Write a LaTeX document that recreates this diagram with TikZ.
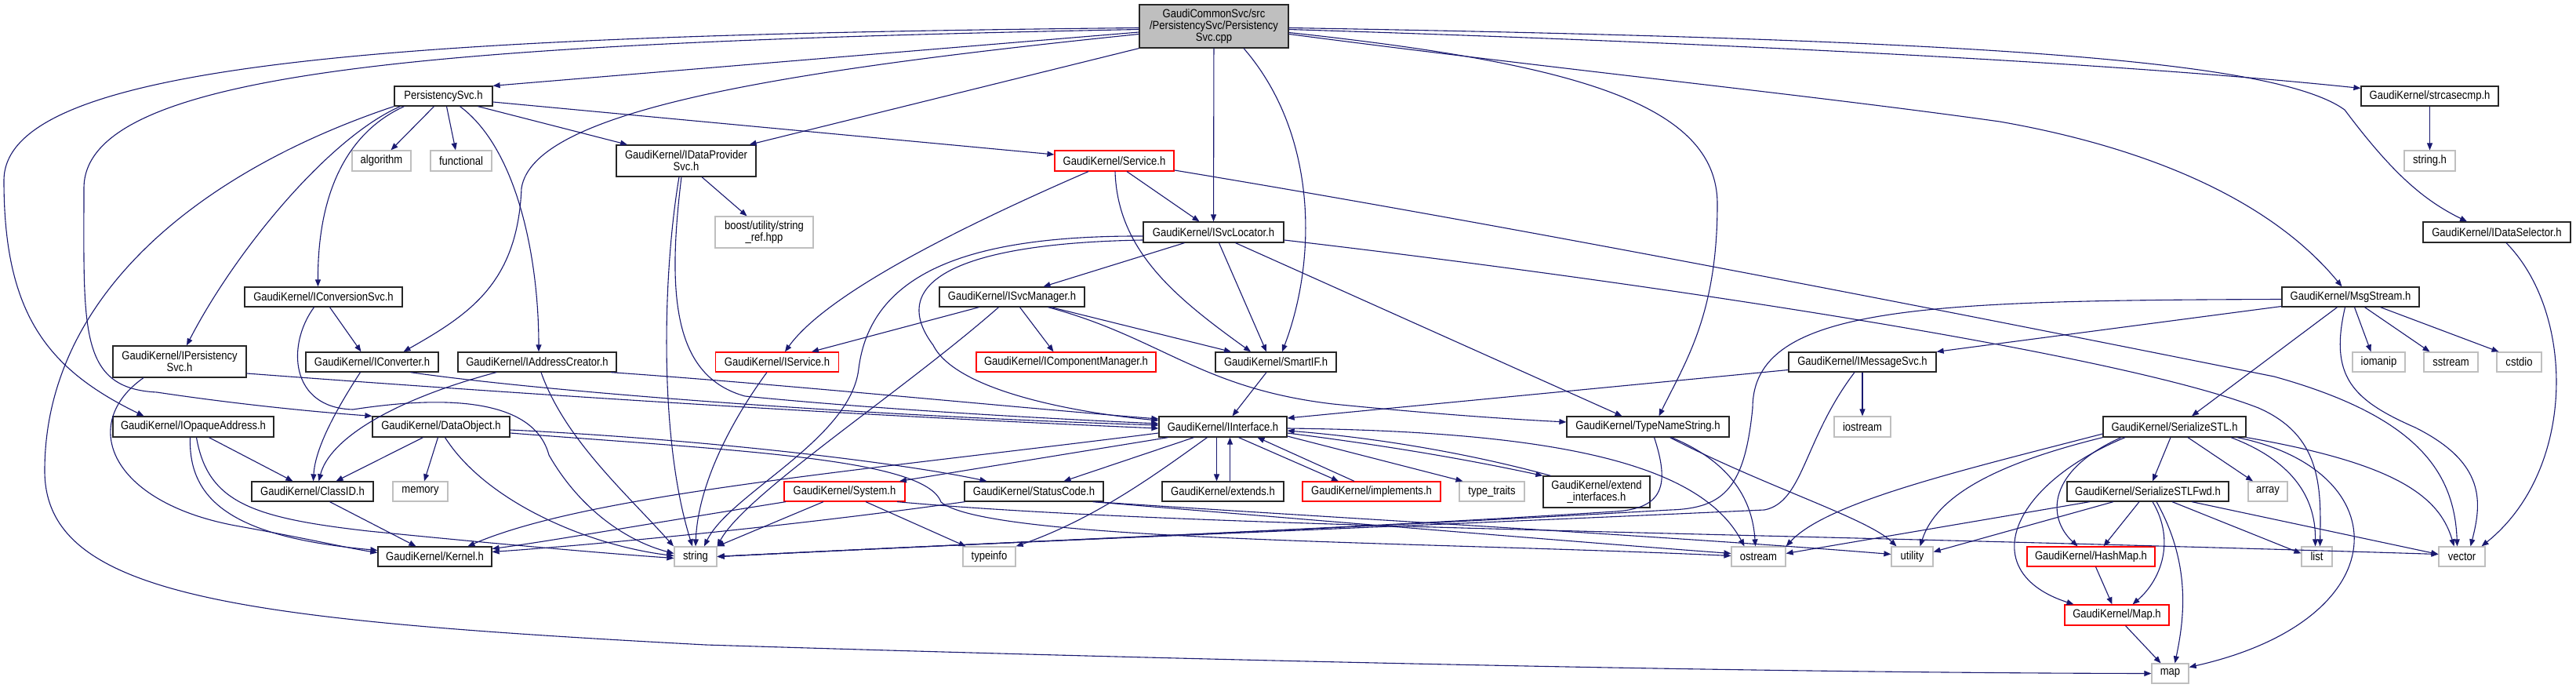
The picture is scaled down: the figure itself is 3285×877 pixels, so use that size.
\documentclass[tikz,border=0pt]{standalone}
\usepackage{fontspec}
\setmainfont{Liberation Sans}[FakeStretch=0.87]
\usetikzlibrary{arrows.meta}
\definecolor{mblue}{HTML}{191970}
\definecolor{gbord}{HTML}{BFBFBF}
\definecolor{mfill}{HTML}{BFBFBF}
\tikzset{
  nb/.style={draw=black!85, line width=1.25pt, fill=white, inner sep=0pt, align=center,
    font=\fontsize{15}{15}\selectfont, text=black},
  rb/.style={nb, draw=red},
  gb/.style={nb, draw=gbord},
  mb/.style={nb, fill=mfill},
  e/.style={draw=mblue, line width=1.1pt, -{Triangle[length=9pt,width=7pt]}},
}
\begin{document}
\begin{tikzpicture}[x=1pt,y=-1pt]
\fill[white] (0,0) rectangle (3285,877);
\useasboundingbox (0,0) rectangle (3285,877);
% nodes
\node[mb, minimum width=190pt, minimum height=55pt] (main) at (1548,33.5) {GaudiCommonSvc/src\\/PersistencySvc/Persistency\\Svc.cpp};
\node[nb, minimum width=125pt, minimum height=25pt] (psvch) at (565.5,122.5) {PersistencySvc.h};
\node[gb, minimum width=75pt, minimum height=26pt] (algorithm) at (486.5,205) {algorithm};
\node[gb, minimum width=78pt, minimum height=26pt] (functional) at (588,205) {functional};
\node[nb, minimum width=178pt, minimum height=40pt] (idps) at (875,205) {GaudiKernel/IDataProvider\\Svc.h};
\node[gb, minimum width=125pt, minimum height=40pt] (boost) at (974.5,296) {boost/utility/string\\\_ref.hpp};
\node[rb, minimum width=152pt, minimum height=26pt] (service) at (1421,205) {GaudiKernel/Service.h};
\node[nb, minimum width=179pt, minimum height=26pt] (isvcloc) at (1547.5,296) {GaudiKernel/ISvcLocator.h};
\node[nb, minimum width=185pt, minimum height=25pt] (isvcman) at (1290.5,378.5) {GaudiKernel/ISvcManager.h};
\node[nb, minimum width=201pt, minimum height=25pt] (iconvsvc) at (412.5,378.5) {GaudiKernel/IConversionSvc.h};
\node[nb, minimum width=170pt, minimum height=40pt] (ipers) at (229,461) {GaudiKernel/IPersistency\\Svc.h};
\node[nb, minimum width=169pt, minimum height=25pt] (iconv) at (474.5,461.5) {GaudiKernel/IConverter.h};
\node[nb, minimum width=202pt, minimum height=25pt] (iaddr) at (685,461.5) {GaudiKernel/IAddressCreator.h};
\node[rb, minimum width=157pt, minimum height=25pt] (iservice) at (991,461.5) {GaudiKernel/IService.h};
\node[rb, minimum width=229pt, minimum height=25pt] (icomp) at (1359.5,461.5) {GaudiKernel/IComponentManager.h};
\node[nb, minimum width=154pt, minimum height=25pt] (smartif) at (1627,461.5) {GaudiKernel/SmartIF.h};
\node[nb, minimum width=188pt, minimum height=25pt] (imsg) at (2375,461.5) {GaudiKernel/IMessageSvc.h};
\node[gb, minimum width=67pt, minimum height=25pt] (iomanip) at (3033.5,461.5) {iomanip};
\node[gb, minimum width=69pt, minimum height=25pt] (sstream) at (3125.5,461.5) {sstream};
\node[gb, minimum width=57pt, minimum height=25pt] (cstdio) at (3212.5,461.5) {cstdio};
\node[nb, minimum width=205pt, minimum height=26pt] (iopaq) at (246.5,544) {GaudiKernel/IOpaqueAddress.h};
\node[nb, minimum width=175pt, minimum height=26pt] (dataobj) at (562.5,544) {GaudiKernel/DataObject.h};
\node[nb, minimum width=163pt, minimum height=26pt] (iinterface) at (1559.5,544) {GaudiKernel/IInterface.h};
\node[nb, minimum width=207pt, minimum height=26pt] (tns) at (2101.5,544) {GaudiKernel/TypeNameString.h};
\node[gb, minimum width=72pt, minimum height=26pt] (iostream) at (2375,544) {iostream};
\node[nb, minimum width=182pt, minimum height=26pt] (serstl) at (2773,544) {GaudiKernel/SerializeSTL.h};
\node[nb, minimum width=155pt, minimum height=25pt] (classid) at (398.5,626.5) {GaudiKernel/ClassID.h};
\node[gb, minimum width=70pt, minimum height=25pt] (memory) at (536,626.5) {memory};
\node[rb, minimum width=154pt, minimum height=25pt] (system) at (1077,626.5) {GaudiKernel/System.h};
\node[nb, minimum width=177pt, minimum height=25pt] (statuscode) at (1318.5,626.5) {GaudiKernel/StatusCode.h};
\node[nb, minimum width=155pt, minimum height=25pt] (extends) at (1559.5,626.5) {GaudiKernel/extends.h};
\node[rb, minimum width=176pt, minimum height=25pt] (implements) at (1749,626.5) {GaudiKernel/implements.h};
\node[gb, minimum width=83pt, minimum height=25pt] (typetraits) at (1902.5,626.5) {type\_traits};
\node[nb, minimum width=136pt, minimum height=40pt] (extint) at (2036,627) {GaudiKernel/extend\\\_interfaces.h};
\node[nb, minimum width=206pt, minimum height=25pt] (serfwd) at (2739,626.5) {GaudiKernel/SerializeSTLFwd.h};
\node[gb, minimum width=50pt, minimum height=25pt] (array) at (2892,626.5) {array};
\node[nb, minimum width=145pt, minimum height=25pt] (kernel) at (554.5,709.5) {GaudiKernel/Kernel.h};
\node[gb, minimum width=54pt, minimum height=25pt] (string) at (887,709.5) {string};
\node[gb, minimum width=67pt, minimum height=25pt] (typeinfo) at (1261.5,709.5) {typeinfo};
\node[gb, minimum width=69pt, minimum height=25pt] (ostream) at (2242.5,709.5) {ostream};
\node[gb, minimum width=53pt, minimum height=25pt] (utility) at (2438.5,709.5) {utility};
\node[rb, minimum width=163pt, minimum height=25pt] (hashmap) at (2666.5,709.5) {GaudiKernel/HashMap.h};
\node[gb, minimum width=39pt, minimum height=25pt] (list) at (2954.5,709.5) {list};
\node[gb, minimum width=59pt, minimum height=25pt] (vector) at (3139.5,709.5) {vector};
\node[rb, minimum width=133pt, minimum height=26pt] (maph) at (2699.5,784) {GaudiKernel/Map.h};
\node[gb, minimum width=47pt, minimum height=25pt] (mapn) at (2767.5,858.5) {map};
\node[nb, minimum width=175pt, minimum height=25pt] (strcasecmp) at (3098.5,122.5) {GaudiKernel/strcasecmp.h};
\node[gb, minimum width=65pt, minimum height=26pt] (stringh) at (3098.5,205) {string.h};
\node[nb, minimum width=188pt, minimum height=26pt] (idsel) at (3184,296) {GaudiKernel/IDataSelector.h};
\node[nb, minimum width=175pt, minimum height=25pt] (msg) at (2997.5,378.5) {GaudiKernel/MsgStream.h};
% ---- edges from main
\draw[e] ([yshift=-7.5pt]main.west) -- (psvch.north east);
\draw[e] (main.south west) -- ([xshift=-9pt]idps.north east);
\draw[e] (main) -- (isvcloc);
\draw[e] ([xshift=38pt]main.south) .. controls (1680,170) and (1680,330) .. ([xshift=8pt]smartif.north);
\draw[e] ([yshift=-8pt]main.east) .. controls (2000,80) and (2190,130) .. (2190,260) .. controls (2190,400) and (2150,460) .. ([xshift=14pt]tns.north);
\draw[e] ([yshift=-4pt]main.east) .. controls (2200,55) and (2700,80) .. ([yshift=10pt]strcasecmp.west);
\draw[e] ([yshift=-2pt]main.east) .. controls (2500,50) and (2900,75) .. (2990,140) .. controls (3050,220) and (3090,255) .. ([xshift=-38pt]idsel.north);
\draw[e] ([yshift=-10pt]main.east) .. controls (2000,90) and (2300,120) .. (2550,155) .. controls (2750,190) and (2900,260) .. ([xshift=-11pt]msg.north);
\draw[e] ([yshift=-10pt]main.west) .. controls (1000,90) and (680,140) .. (665,240) .. controls (660,360) and (600,400) .. ([xshift=40pt]iconv.north);
\draw[e] ([yshift=-2pt]main.west) .. controls (500,45) and (5,80) .. (5,230) .. controls (5,400) and (60,470) .. ([xshift=-63pt]iopaq.north);
\draw[e] ([yshift=-4pt]main.west) .. controls (550,55) and (107,90) .. (107,240) .. controls (107,420) and (100,495) .. (200,500) .. controls (300,515) and (400,525) .. (dataobj.north west);
% ---- PersistencySvc.h
\draw[e] (psvch.south west) .. controls (250,220) and (57,380) .. (57,600) .. controls (57,760) and (300,790) .. (900,822) .. controls (1800,850) and (2400,858) .. (mapn.west);
\draw[e] ([xshift=-12pt]psvch.south) -- ([xshift=12pt]algorithm.north);
\draw[e] ([xshift=4pt]psvch.south) -- ([xshift=-7pt]functional.north);
\draw[e] ([xshift=-50pt]psvch.south) .. controls (440,170) and (405,250) .. ([xshift=-7pt]iconvsvc.north);
\draw[e] ([xshift=-55pt]psvch.south) .. controls (420,175) and (300,320) .. ([xshift=9pt]ipers.north);
\draw[e] ([xshift=21pt]psvch.south) .. controls (660,190) and (687,330) .. ([xshift=2pt]iaddr.north);
\draw[e] ([xshift=44pt]psvch.south) -- ([xshift=-75pt]idps.north);
\draw[e] ([yshift=-7.5pt]psvch.east) -- ([yshift=8pt]service.west);
% ---- IDataProviderSvc.h
\draw[e] ([xshift=20pt]idps.south) -- ([xshift=-22pt]boost.north);
\draw[e] ([xshift=-9pt]idps.south) .. controls (845,350) and (840,560) .. ([xshift=-4pt]string.north);
\draw[e] ([xshift=-6pt]idps.south) .. controls (850,380) and (860,480) .. (950,505) .. controls (1100,520) and (1300,532) .. ([yshift=4pt]iinterface.west);
% ---- Service.h
\draw[e] ([xshift=16pt]service.south) -- ([xshift=-18pt]isvcloc.north);
\draw[e] ([xshift=-33pt]service.south) .. controls (1200,300) and (1050,380) .. ([xshift=10pt]iservice.north);
\draw[e] ([xshift=1pt]service.south) .. controls (1425,320) and (1500,380) .. ([xshift=-32pt]smartif.north);
\draw[e] ([yshift=-12pt]service.east) .. controls (2000,300) and (2600,420) .. (2900,480) .. controls (3080,530) and (3130,600) .. ([xshift=-6pt]vector.north);
% ---- ISvcLocator.h
\draw[e] ([xshift=-37pt]isvcloc.south) -- ([xshift=40pt]isvcman.north);
\draw[e] ([xshift=7pt]isvcloc.south) -- ([xshift=-12pt]smartif.north);
\draw[e] ([xshift=28pt]isvcloc.south) -- ([xshift=-33pt]tns.north);
\draw[e] ([yshift=-10pt]isvcloc.east) .. controls (2100,360) and (2700,450) .. (2880,520) .. controls (2960,555) and (2960,620) .. ([xshift=4pt]list.north);
\draw[e] ([yshift=-5pt]isvcloc.west) .. controls (1230,300) and (1110,350) .. (1095,470) .. controls (1085,560) and (930,630) .. ([xshift=11pt]string.north);
\draw[e] ([yshift=-10pt]isvcloc.west) .. controls (1220,310) and (1130,360) .. (1190,440) .. controls (1220,500) and (1380,527) .. ([yshift=8pt]iinterface.west);
% ---- ISvcManager.h
\draw[e] ([xshift=-42pt]isvcman.south) -- ([xshift=44pt]iservice.north);
\draw[e] ([xshift=-17pt]isvcman.south) .. controls (1150,500) and (950,630) .. (string.north east);
\draw[e] ([xshift=10pt]isvcman.south) -- ([xshift=-16pt]icomp.north);
\draw[e] ([xshift=50pt]isvcman.south) -- ([xshift=-57pt]smartif.north);
\draw[e] ([xshift=46pt]isvcman.south) .. controls (1480,430) and (1530,495) .. (1700,515) .. controls (1800,525) and (1900,533) .. ([yshift=6pt]tns.west);
% ---- IService.h
\draw[e] ([xshift=-13pt]iservice.south) .. controls (930,540) and (890,620) .. (string.north);
% ---- IConversionSvc.h
\draw[e] ([xshift=8pt]iconvsvc.south) -- ([xshift=-14pt]iconv.north);
\draw[e] ([xshift=-12pt]iconvsvc.south) .. controls (365,440) and (370,520) .. (450,522) .. controls (560,505) and (680,505) .. (700,580) .. controls (740,650) and (800,690) .. ([yshift=4pt]string.west);
% ---- IConverter.h
\draw[e] ([xshift=-15pt]iconv.south) .. controls (430,520) and (402,570) .. ([xshift=1pt]classid.north);
\draw[e] ([xshift=49pt]iconv.south) .. controls (700,500) and (1100,530) .. ([yshift=2pt]iinterface.west);
% ---- IAddressCreator.h
\draw[e] ([xshift=-52pt]iaddr.south) .. controls (500,510) and (420,560) .. ([xshift=8pt]classid.north);
\draw[e] ([xshift=5pt]iaddr.south) .. controls (720,560) and (800,630) .. ([xshift=-28pt]string.north);
\draw[e] ([xshift=94pt]iaddr.south) .. controls (1000,490) and (1300,520) .. ([yshift=10pt]iinterface.west);
% ---- IPersistencySvc.h
\draw[e] ([xshift=-46pt]ipers.south) .. controls (100,540) and (140,640) .. (300,670) .. controls (400,688) and (440,698) .. ([yshift=5pt]kernel.west);
\draw[e] ([yshift=-15pt]ipers.east) .. controls (700,505) and (1100,530) .. ([yshift=-2pt]iinterface.west);
% ---- IOpaqueAddress.h
\draw[e] ([xshift=20pt]iopaq.south) -- ([xshift=-25pt]classid.north);
\draw[e] ([xshift=-4pt]iopaq.south) .. controls (240,640) and (300,685) .. ([yshift=8pt]kernel.west);
\draw[e] ([xshift=4pt]iopaq.south) .. controls (265,640) and (320,660) .. (470,677) .. controls (650,695) and (780,706) .. ([yshift=-2pt]string.west);
% ---- DataObject.h
\draw[e] ([xshift=-23pt]dataobj.south) -- ([xshift=30pt]classid.north);
\draw[e] ([xshift=-4pt]dataobj.south) -- ([xshift=5pt]memory.north);
\draw[e] ([xshift=5pt]dataobj.south) .. controls (620,640) and (750,695) .. ([yshift=1pt]string.west);
\draw[e] ([yshift=-4pt]dataobj.east) .. controls (900,560) and (1150,590) .. ([xshift=-60pt]statuscode.north);
\draw[e] ([yshift=-8pt]dataobj.east) .. controls (950,575) and (1180,585) .. (1200,640) .. controls (1260,690) and (1800,690) .. ([yshift=1pt]ostream.west);
% ---- ClassID.h
\draw[e] ([xshift=22pt]classid.south) -- ([xshift=-24pt]kernel.north);
% ---- IInterface.h
\draw[e] ([yshift=-8pt]iinterface.west) .. controls (1100,600) and (750,630) .. ([xshift=42pt]kernel.north);
\draw[e] ([xshift=-70pt]iinterface.south) -- ([xshift=70pt]system.north);
\draw[e] ([xshift=-37pt]iinterface.south) -- ([xshift=38pt]statuscode.north);
\draw[e] ([xshift=-20pt]iinterface.south) .. controls (1480,600) and (1400,660) .. (typeinfo.north east);
\draw[e] ([xshift=-8pt]iinterface.south) -- ([xshift=-8pt]extends.north);
\draw[e] ([xshift=9pt]extends.north) -- ([xshift=9pt]iinterface.south);
\draw[e] ([xshift=20pt]iinterface.south) -- ([xshift=-42pt]implements.north);
\draw[e] ([xshift=-22pt]implements.north) -- ([xshift=44pt]iinterface.south);
\draw[e] ([yshift=-12pt]iinterface.east) -- ([xshift=-37pt]typetraits.north);
\draw[e] ([yshift=-8pt]iinterface.east) .. controls (1800,572) and (1900,592) .. (extint.north west);
\draw[e] ([xshift=10pt]extint.north west) .. controls (1900,585) and (1780,560) .. ([yshift=-5pt]iinterface.east);
\draw[e] ([yshift=-2pt]iinterface.east) .. controls (2000,550) and (2170,595) .. ([xshift=-18pt]ostream.north);
% ---- SmartIF.h
\draw[e] ([xshift=-12pt]smartif.south) -- ([xshift=12pt]iinterface.north);
% ---- IMessageSvc.h
\draw[e] ([yshift=-10pt]imsg.west) -- ([yshift=11pt]iinterface.east);
\draw[e] (imsg) -- (iostream);
\draw[e] ([xshift=-10pt]imsg.south) .. controls (2300,560) and (2300,640) .. (2250,650) .. controls (1700,675) and (1300,690) .. (string.east);
% ---- TypeNameString.h
\draw[e] ([xshift=8pt]tns.south) .. controls (2130,620) and (2120,648) .. (2060,652) .. controls (1700,675) and (1300,690) .. (string.east);
\draw[e] ([xshift=30pt]tns.south) .. controls (2210,590) and (2235,640) .. ([xshift=-4pt]ostream.north);
\draw[e] ([xshift=28pt]tns.south) .. controls (2250,620) and (2380,660) .. ([xshift=-20pt]utility.north);
% ---- MsgStream.h
\draw[e] ([yshift=-3pt]msg.west) .. controls (2450,383) and (2235,390) .. (2235,520) .. controls (2225,620) and (2200,648) .. (2130,650) .. controls (1700,675) and (1300,690) .. (string.east);
\draw[e] ([yshift=-12pt]msg.west) -- (imsg.north east);
\draw[e] ([xshift=-17pt]msg.south) -- ([xshift=22pt]serstl.north);
\draw[e] ([xshift=5pt]msg.south) -- ([xshift=-10pt]iomanip.north);
\draw[e] ([xshift=18pt]msg.south) -- ([xshift=-27pt]sstream.north);
\draw[e] ([xshift=38pt]msg.south) -- ([xshift=-26pt]cstdio.north);
\draw[e] ([xshift=-7pt]msg.south) .. controls (2970,480) and (3000,510) .. (3080,545) .. controls (3170,590) and (3165,640) .. ([xshift=11pt]vector.north);
% ---- IDataSelector.h, strcasecmp.h
\draw[e] ([xshift=12pt]idsel.south) .. controls (3285,400) and (3285,600) .. ([xshift=25pt]vector.north);
\draw[e] (strcasecmp) -- (stringh);
% ---- SerializeSTL.h
\draw[e] ([xshift=-5pt]serstl.south) -- ([xshift=6pt]serfwd.north);
\draw[e] ([xshift=17pt]serstl.south) -- ([xshift=-19pt]array.north);
\draw[e] ([xshift=72pt]serstl.south) .. controls (2930,590) and (2953,640) .. ([xshift=-2pt]list.north);
\draw[e] (serstl.south east) .. controls (3050,590) and (3110,630) .. ([xshift=-10pt]vector.north);
\draw[e] ([xshift=80pt]serstl.south) .. controls (3060,600) and (3060,790) .. ([yshift=8pt]mapn.east);
\draw[e] ([xshift=-68pt]serstl.south) .. controls (2610,600) and (2610,660) .. ([xshift=-17pt]hashmap.north);
\draw[e] ([xshift=-63pt]serstl.south) .. controls (2560,620) and (2520,730) .. ([xshift=-55pt]maph.north);
\draw[e] ([yshift=-9pt]serstl.west) .. controls (2500,600) and (2330,640) .. (ostream.north east);
\draw[e] (serstl.south west) .. controls (2550,590) and (2470,630) .. ([xshift=10pt]utility.north);
% ---- SerializeSTLFwd.h
\draw[e] ([xshift=-11pt]serfwd.south) -- ([xshift=16pt]hashmap.north);
\draw[e] ([xshift=6pt]serfwd.south) .. controls (2775,690) and (2755,740) .. ([xshift=20pt]maph.north);
\draw[e] ([xshift=11pt]serfwd.south) .. controls (2795,720) and (2785,790) .. ([xshift=6pt]mapn.north);
\draw[e] ([xshift=31pt]serfwd.south) -- ([yshift=4pt]list.west);
\draw[e] ([xshift=56pt]serfwd.south) -- ([yshift=3pt]vector.west);
\draw[e] ([xshift=-74pt]serfwd.south) -- ([yshift=4pt]ostream.east);
\draw[e] ([xshift=-44pt]serfwd.south) -- ([yshift=6pt]utility.east);
% ---- HashMap.h, Map.h
\draw[e] ([xshift=6pt]hashmap.south) -- ([xshift=-6pt]maph.north);
\draw[e] ([xshift=11pt]maph.south) -- ([xshift=-12pt]mapn.north);
% ---- System.h
\draw[e] ([xshift=-75pt]system.south) .. controls (800,672) and (700,690) .. ([yshift=10pt]kernel.east);
\draw[e] ([xshift=-27pt]system.south) -- (string.north east);
\draw[e] ([xshift=27pt]system.south) -- ([xshift=-30pt]typeinfo.north);
\draw[e] ([xshift=67pt]system.south) .. controls (1500,672) and (2200,678) .. ([yshift=3pt]vector.west);
% ---- StatusCode.h
\draw[e] ([xshift=-88pt]statuscode.south) .. controls (1000,672) and (750,695) .. ([yshift=6pt]kernel.east);
\draw[e] ([xshift=75pt]statuscode.south) .. controls (1700,665) and (2000,690) .. ([yshift=4pt]ostream.west);
\draw[e] ([xshift=78pt]statuscode.south) .. controls (1700,660) and (2150,685) .. ([yshift=3pt]utility.west);
\end{tikzpicture}
\end{document}
